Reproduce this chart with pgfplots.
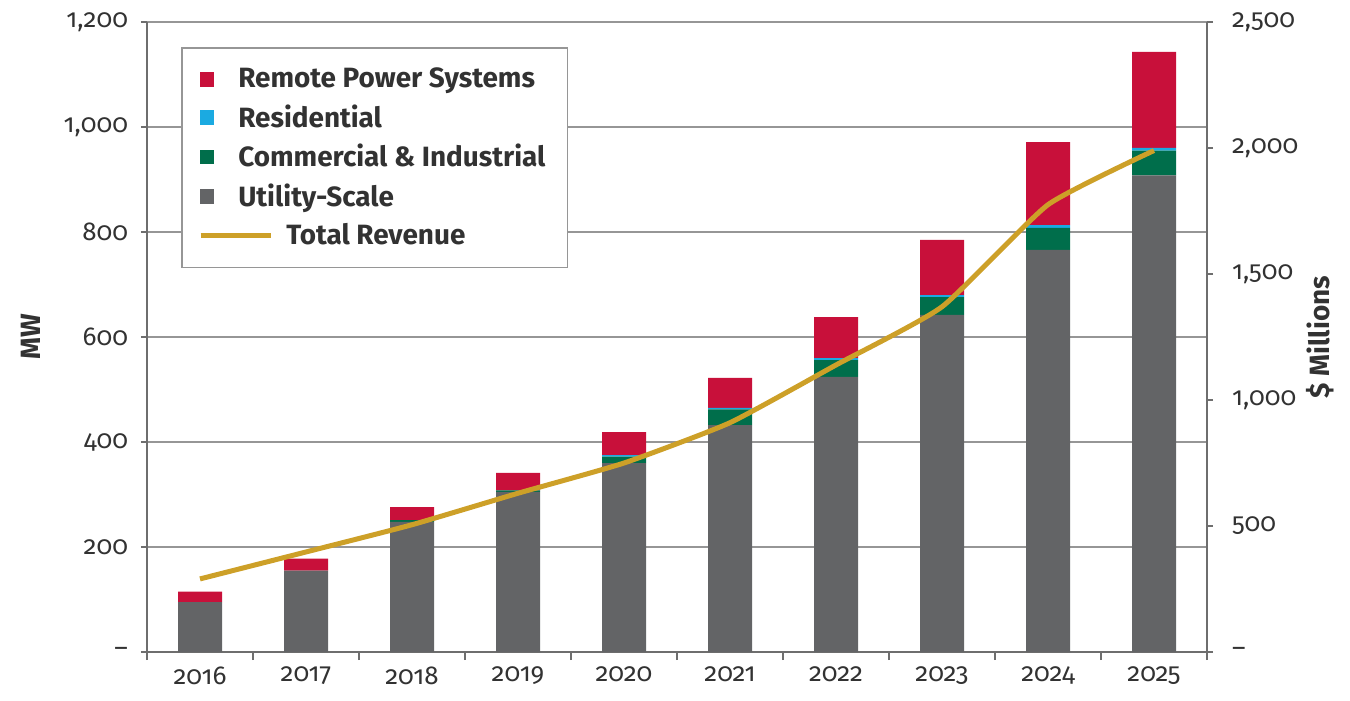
\documentclass[border=0pt]{standalone}
\usepackage{pgfplots}
\usepackage{pgfplotstable}
\pgfplotsset{compat=1.18}
\usepackage{fontspec}
\setmainfont{Fira Sans}[Numbers=OldStyle]
\definecolor{rps}{RGB}{200,16,58}
\definecolor{res}{RGB}{27,170,225}
\definecolor{cni}{RGB}{0,110,75}
\definecolor{util}{RGB}{99,100,102}
\definecolor{gold}{RGB}{205,160,40}
\definecolor{gridgray}{RGB}{150,150,150}
\definecolor{axisgray}{RGB}{110,110,110}
\definecolor{txt}{RGB}{50,50,50}
\pgfplotstableread{
x util ci res rem rev
0 95 0 0 20 290
1 155 0 0 23 397
2 248 3 0 25 505
3 305 3 0 33 630
4 360 12 3 44 750
5 432 30 3 57 910
6 524 32 4 78 1139
7 642 34 4 105 1370
8 766 42 5 158 1775
9 908 47 5 183 1990
}\data
\begin{document}
\begin{tikzpicture}
\begin{axis}[
  name=main,
  scale only axis, width=530bp, height=315bp,
  xmin=-0.5, xmax=9.5, ymin=0, ymax=1200,
  ybar stacked, bar width=22bp,
  axis x line*=bottom, axis y line*=left,
  axis line style={draw=axisgray, line width=0.8bp},
  xtick={0,...,9},
  xticklabels={2016,2017,2018,2019,2020,2021,2022,2023,2024,2025},
  major x tick style={draw=none},
  minor xtick={-0.5,0.5,1.5,2.5,3.5,4.5,5.5,6.5,7.5,8.5,9.5},
  minor x tick style={draw=axisgray, line width=0.8bp},
  minor tick length=4bp,
  tick align=outside,
  major tick length=3bp,
  ytick={0,200,400,600,800,1000,1200},
  yticklabels={--,200,400,600,800,{1,000},{1,200}},
  ytick style={draw=axisgray, line width=0.8bp},
  ymajorgrids, grid style={gridgray, line width=0.8bp},
  tick label style={font=\fontsize{13}{15}\selectfont, text=txt},
  xticklabel style={yshift=-1bp},
  yticklabel style={xshift=-3bp},
  ylabel={MW},
  ylabel style={at={(axis description cs:-0.110,0.5)}, anchor=center, rotate=0, font=\bfseries\fontsize{14}{16}\selectfont, text=txt},
]
\addplot[fill=util, draw=none] table[x=x,y=util]{\data};
\addplot[fill=cni, draw=none] table[x=x,y=ci]{\data};
\addplot[fill=res, draw=none] table[x=x,y=res]{\data};
\addplot[fill=rps, draw=none] table[x=x,y=rem]{\data};
\end{axis}
\begin{axis}[
  scale only axis, width=530bp, height=315bp,
  xmin=-0.5, xmax=9.5, ymin=0, ymax=2500,
  axis x line=none, axis y line*=right,
  axis line style={draw=axisgray, line width=0.8bp},
  ytick={0,500,1000,1500,2000,2500},
  yticklabels={--,500,{1,000},{1,500},{2,000},{2,500}},
  tick align=outside, major tick length=3bp,
  ytick style={draw=axisgray, line width=0.8bp},
  tick label style={font=\fontsize{13}{15}\selectfont, text=txt},
  yticklabel style={xshift=6bp},
  ylabel={\$ Millions},
  ylabel style={at={(axis description cs:1.107,0.5)}, anchor=center, rotate=0, font=\bfseries\fontsize{14}{16}\selectfont, text=txt},
  legend style={at={(0.032,0.96)}, anchor=north west, draw=gridgray, line width=0.8bp, fill=white,
    font=\bfseries\fontsize{14}{16}\selectfont, text=txt, row sep=3bp,
    inner xsep=9bp, inner ysep=8bp,
    /tikz/every odd column/.append style={column sep=10bp}},
  legend cell align=left,
]
\addlegendimage{legend image code/.code={\fill[rps] (0bp,-3.25bp) rectangle (6.5bp,3.25bp);}}
\addlegendentry{Remote Power Systems}
\addlegendimage{legend image code/.code={\fill[res] (0bp,-3.25bp) rectangle (6.5bp,3.25bp);}}
\addlegendentry{Residential}
\addlegendimage{legend image code/.code={\fill[cni] (0bp,-3.25bp) rectangle (6.5bp,3.25bp);}}
\addlegendentry{Commercial \& Industrial}
\addlegendimage{legend image code/.code={\fill[util] (0bp,-3.25bp) rectangle (6.5bp,3.25bp);}}
\addlegendentry{Utility-Scale}
\addplot[gold, line width=2.5bp, line join=round, smooth, tension=0.3, forget plot] table[x=x,y=rev]{\data};
\addlegendimage{legend image code/.code={\draw[gold, line width=2.5bp, overlay] (0bp,0bp) -- (35bp,0bp);}}
\addlegendentry{\hspace*{24bp}Total Revenue}
\end{axis}
\pgfresetboundingbox
\useasboundingbox ([xshift=-73.5bp,yshift=-24bp]main.south west) rectangle ([xshift=71.5bp,yshift=11bp]main.north east);
\end{tikzpicture}
\end{document}
